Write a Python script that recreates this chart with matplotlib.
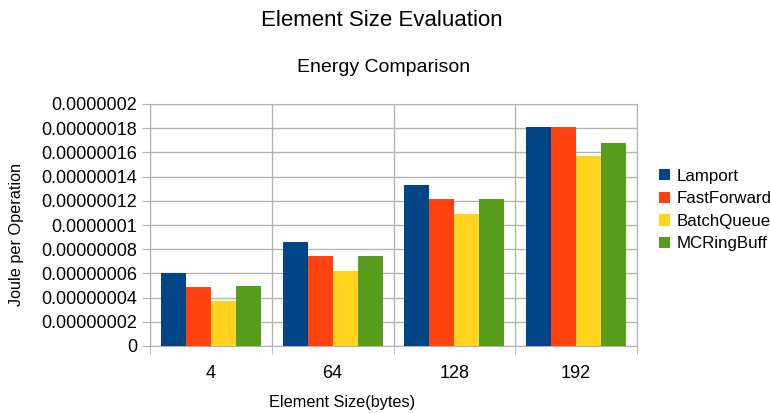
import matplotlib
matplotlib.use("Agg")
from matplotlib import pyplot as plt
from matplotlib.ticker import FixedLocator, FuncFormatter
import numpy as np

plt.rcParams['font.family'] = ['Liberation Sans', 'DejaVu Sans']

sizes = ["4", "64", "128", "192"]
series = ["Lamport", "FastForward", "BatchQueue", "MCRingBuff"]
lamport = [6.03e-8, 8.6e-8, 1.331e-7, 1.81e-7]
fastforward = [4.88e-8, 7.44e-8, 1.215e-7, 1.81e-7]
batchqueue = [3.72e-8, 6.2e-8, 1.091e-7, 1.57e-7]
mcringbuff = [4.96e-8, 7.44e-8, 1.215e-7, 1.678e-7]
colors = ["#004586", "#ff420e", "#ffd320", "#579d1c"]

values = [lamport, fastforward, batchqueue, mcringbuff]

fig = plt.figure(figsize=(7.7, 4.13), dpi=100)
ax = fig.add_axes([150 / 770, 67 / 413, 487 / 770, 242 / 413])

x = np.arange(len(sizes))
w = 0.205
for i, (name, vals) in enumerate(zip(series, values)):
    ax.bar(x + (i - 1.5) * w, vals, width=w, color=colors[i], label=name, zorder=3)

ax.set_xlim(-0.5, len(sizes) - 0.5)
ax.set_ylim(0, 2e-7)
ax.set_yticks(np.arange(0, 2.01e-7, 2e-8))


def fmt(v, pos):
    if abs(v) < 1e-12:
        return "0"
    return f"{v:.8f}".rstrip("0").rstrip(".")


ax.yaxis.set_major_formatter(FuncFormatter(fmt))
ax.set_xticks(x)
ax.set_xticklabels(sizes)
ax.xaxis.set_minor_locator(FixedLocator(np.arange(-0.5, len(sizes), 1.0)))
ax.tick_params(axis="x", which="major", length=0, pad=14, labelsize=13)
ax.tick_params(axis="x", which="minor", length=6, color="#b3b3b3")
ax.tick_params(axis="y", length=6, color="#b3b3b3", labelsize=13, pad=3)

ax.grid(axis="y", which="major", color="#b3b3b3", linewidth=1, zorder=0)
ax.grid(axis="x", which="minor", color="#b3b3b3", linewidth=1, zorder=0)
for s in ax.spines.values():
    s.set_color("#b3b3b3")

fig.text(342 / 770, 1 - 402 / 413, "Element Size(bytes)", fontsize=11.7, ha="center", va="center")
fig.text(17 / 770, 1 - 235 / 413, "Joule per Operation", fontsize=11.7, ha="center", va="center",
         rotation=90)

fig.text(382 / 770, 1 - 20 / 413, "Element Size Evaluation", fontsize=16, ha="center", va="center")
fig.text(384 / 770, 1 - 68 / 413, "Energy Comparison", fontsize=14, ha="center", va="center")

ax.legend(loc="center left", bbox_to_anchor=(509 / 487, (346 - 210) / 242), frameon=False,
          fontsize=12.2, handlelength=0.65, handleheight=0.65, handletextpad=0.4,
          labelspacing=0.45, borderaxespad=0, borderpad=0)

fig.savefig("out.png", dpi=100)
